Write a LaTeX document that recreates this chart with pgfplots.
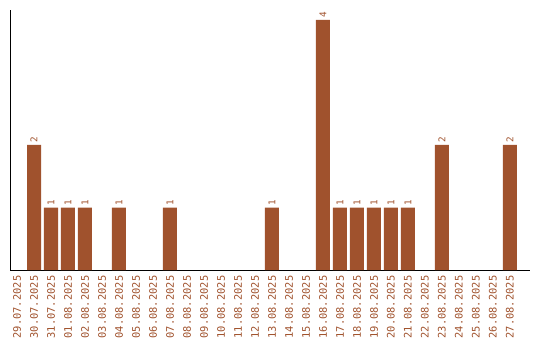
\documentclass[border=0pt]{standalone}
\usepackage{pgfplots}
\pgfplotsset{compat=1.18}
\usepackage{fontspec}
\setmainfont{DejaVu Sans Mono}
\definecolor{barc}{HTML}{A0522D}
\begin{document}
\begin{tikzpicture}[x=1pt,y=1pt]
\path[use as bounding box] (-10,-70) rectangle (530,270);
\begin{axis}[
  at={(0,0)}, anchor=south west,
  width=520pt, height=260pt, scale only axis,
  xmin=-0.412, xmax=30.18, ymin=0, ymax=4.16,
  axis x line=bottom, axis y line=left,
  axis line style={-, black, line width=1pt},
  ytick=\empty,
  xtick={0,...,29},
  xticklabels={29.07.2025,30.07.2025,31.07.2025,01.08.2025,02.08.2025,03.08.2025,04.08.2025,05.08.2025,06.08.2025,07.08.2025,08.08.2025,09.08.2025,10.08.2025,11.08.2025,12.08.2025,13.08.2025,14.08.2025,15.08.2025,16.08.2025,17.08.2025,18.08.2025,19.08.2025,20.08.2025,21.08.2025,22.08.2025,23.08.2025,24.08.2025,25.08.2025,26.08.2025,27.08.2025},
  major tick length=0pt,
  xticklabel style={rotate=90, anchor=east, font=\fontsize{10.4}{11}\selectfont, text=barc, inner sep=0pt, xshift=0.5pt},
  xticklabel shift=6pt,
  ybar, bar width=14pt,
  /pgf/number format/assume math mode=true,
  nodes near coords={\pgfmathprintnumber[assume math mode=true]{\pgfplotspointmeta}},
  every node near coord/.append style={rotate=90, anchor=west, font=\fontsize{9.3}{10}\selectfont, text=barc, inner sep=1pt, xshift=1pt},
]
\addplot[fill=barc, draw=none] coordinates {
(1,2) (2,1) (3,1) (4,1) (6,1) (9,1) (15,1) (18,4) (19,1) (20,1) (21,1) (22,1) (23,1) (25,2) (29,2)
};
\end{axis}
\end{tikzpicture}
\end{document}
